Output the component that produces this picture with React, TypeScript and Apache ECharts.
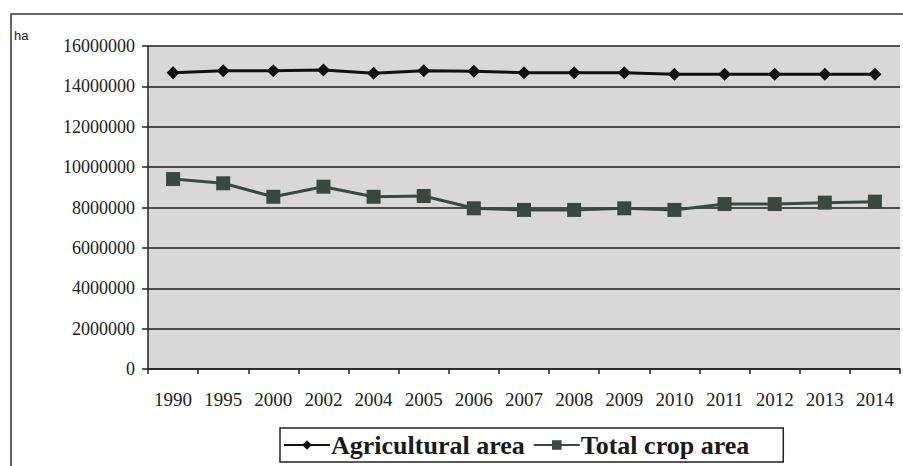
import React, { useEffect, useRef } from "react";
import * as echarts from "echarts";

const years = ["1990", "1995", "2000", "2002", "2004", "2005", "2006", "2007", "2008", "2009", "2010", "2011", "2012", "2013", "2014"];
const agriculturalArea = [14680000, 14770000, 14770000, 14810000, 14650000, 14770000, 14750000, 14680000, 14680000, 14680000, 14600000, 14600000, 14600000, 14600000, 14600000];
const totalCropArea = [9410000, 9200000, 8530000, 9030000, 8530000, 8570000, 7960000, 7880000, 7880000, 7960000, 7880000, 8170000, 8170000, 8240000, 8290000];
const seriesNames = ["Agricultural area", "Total crop area"];
const unitLabel = "ha";

export default function App() {
  const ref = useRef<HTMLDivElement>(null);
  useEffect(() => {
    if (!ref.current) return;
    const chart = echarts.init(ref.current, undefined, { renderer: "svg" });
    const serif = "Liberation Serif";
    chart.setOption({
      animation: false,
      backgroundColor: "#ffffff",
      graphic: [
        {
          type: "rect",
          shape: { x: 11, y: 14, width: 920, height: 500 },
          style: { fill: "none", stroke: "#333", lineWidth: 1.5 },
          z: 0,
        },
        {
          type: "text",
          left: 14,
          top: 29,
          style: { text: unitLabel, font: "13px 'Liberation Sans', Arial, sans-serif", fill: "#222" },
        },
      ],
      grid: { left: 148, top: 46, right: 3, bottom: 97, show: true, backgroundColor: "#d8d8d8", borderWidth: 0 },
      legend: {
        left: 280,
        top: 428,
        data: seriesNames,
        orient: "horizontal",
        borderColor: "#222",
        borderWidth: 1.5,
        borderRadius: 0,
        padding: [4, 34, 4, 3],
        itemWidth: 46,
        itemHeight: 12,
        itemGap: 8,
        textStyle: { fontFamily: serif, fontWeight: "bold", fontSize: 26, color: "#1a1a1a", padding: [0, 0, 0, -4] },
      },
      xAxis: {
        type: "category",
        data: years,
        boundaryGap: true,
        axisLine: { lineStyle: { color: "#222", width: 1.5 } },
        axisTick: { show: true, length: 5, lineStyle: { color: "#222", width: 1.5 } },
        axisLabel: { fontFamily: serif, fontSize: 19, color: "#222", margin: 21 },
        splitLine: { show: false },
      },
      yAxis: {
        type: "value",
        min: 0,
        max: 16000000,
        interval: 2000000,
        axisLine: { show: true, lineStyle: { color: "#222", width: 1.5 } },
        axisTick: { show: true, length: 6, lineStyle: { color: "#222", width: 1.5 } },
        axisLabel: { fontFamily: serif, fontSize: 18, color: "#222", margin: 13, formatter: (v: number) => String(v) },
        splitLine: { show: true, lineStyle: { color: "#1e1e1e", width: 1.5 } },
      },
      series: [
        {
          name: seriesNames[0],
          type: "line",
          data: agriculturalArea,
          symbol: "diamond",
          symbolSize: 13,
          itemStyle: { color: "#111" },
          lineStyle: { color: "#111", width: 3 },
          z: 3,
        },
        {
          name: seriesNames[1],
          type: "line",
          data: totalCropArea,
          symbol: "rect",
          symbolSize: 14,
          itemStyle: { color: "#3b4842" },
          lineStyle: { color: "#3b4842", width: 3 },
          z: 3,
        },
      ],
    });
    return () => chart.dispose();
  }, []);
  return <div ref={ref} style={{ position: "absolute", left: 0, top: 0, width: 903, height: 466 }} />;
}
